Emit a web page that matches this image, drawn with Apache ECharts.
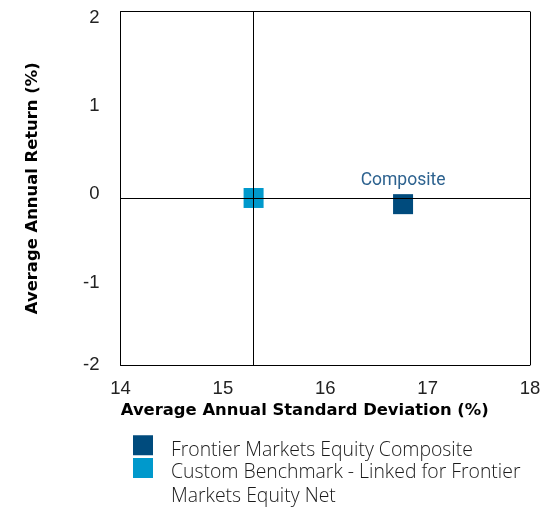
<!DOCTYPE html>
<html>
<head>
<meta charset="utf-8">
<script src="https://cdn.jsdelivr.net/npm/echarts@6/dist/echarts.min.js"></script>
<style>
  html, body { margin: 0; padding: 0; background: #ffffff; }
  #chart { width: 548px; height: 513px; }
</style>
</head>
<body>
<div id="chart"></div>
<script>
// series names
const compositeName = 'Frontier Markets Equity Composite';
const benchmarkName = 'Custom Benchmark - Linked for Frontier Markets Equity Net';
// legend text as it wraps in the picture
const benchmarkLegendLines = ['Custom Benchmark - Linked for Frontier', 'Markets Equity Net'];

// [std dev, return]
const compositePoint = [16.76, -0.18];
const benchmarkPoint = [15.30, -0.11];

// axis ranges
const xRange = [14, 18];
const yRange = [-2, 2];

const compositeColor = '#004b7d';
const benchmarkColor = '#0099cc';
const lightFont = '"Open Sans", Roboto, sans-serif';
const tickFont = '"Liberation Sans", sans-serif';
const boldFont = '"DejaVu Sans", sans-serif';

const chart = echarts.init(document.getElementById('chart'));

// legend item: a spacer line on top pushes the text a bit below the square's centre
function legendBlock(lines) {
  return '{s| }\n' + lines.map(l => '{t|' + l + '}').join('\n');
}
function legendRich(spacer) {
  return {
    s: { fontSize: 2, lineHeight: spacer },
    t: { fontFamily: lightFont, fontSize: 19.4, fontWeight: 300, color: '#1a1a1a', lineHeight: 24.5, padding: [0, 0, 0, 13] }
  };
}

const option = {
  backgroundColor: '#ffffff',
  animation: false,
  grid: { left: 120.5, right: 18, top: 11.5, bottom: 148 },
  xAxis: {
    type: 'value',
    min: xRange[0],
    max: xRange[1],
    interval: 1,
    name: 'Average Annual Standard Deviation (%)',
    nameLocation: 'middle',
    nameGap: 34,
    nameTextStyle: {
      fontFamily: boldFont, fontSize: 16.4, fontWeight: 'bold', color: '#000',
      padding: [0, 41, 0, 0]
    },
    axisLine: { show: true, onZero: false, lineStyle: { color: '#000', width: 1 } },
    axisTick: { show: false },
    splitLine: { show: false },
    axisLabel: { fontFamily: tickFont, fontSize: 18.5, color: '#222', margin: 14 }
  },
  yAxis: {
    type: 'value',
    min: yRange[0],
    max: yRange[1],
    interval: 1,
    name: 'Average Annual Return (%)',
    nameLocation: 'middle',
    nameGap: 80,
    nameTextStyle: { fontFamily: boldFont, fontSize: 16.4, fontWeight: 'bold', color: '#000' },
    axisLine: { show: true, onZero: false, lineStyle: { color: '#000', width: 1 } },
    axisTick: { show: false },
    splitLine: { show: false },
    axisLabel: {
      margin: 21,
      formatter: v => (v === yRange[0] ? '{b|' + v + '}' : '{a|' + v + '}'),
      rich: {
        a: { fontFamily: tickFont, fontSize: 18.5, color: '#222', padding: [12, 0, 0, 0] },
        b: { fontFamily: tickFont, fontSize: 18.5, color: '#222', padding: [0, 0, 0, 0] }
      }
    }
  },
  legend: [
    {
      left: 133, top: 432, padding: 0, orient: 'vertical',
      itemWidth: 20, itemHeight: 20, selectedMode: false,
      data: [{ name: compositeName, icon: 'rect' }],
      formatter: () => legendBlock([compositeName]),
      textStyle: { rich: legendRich(10) }
    },
    {
      left: 133, top: 442.5, padding: 0, orient: 'vertical',
      itemWidth: 20, itemHeight: 20, selectedMode: false,
      data: [{ name: benchmarkName, icon: 'rect' }],
      formatter: () => legendBlock(benchmarkLegendLines),
      textStyle: { rich: legendRich(33) }
    }
  ],
  series: [
    {
      // crosshair through the benchmark, plus the top/right frame
      type: 'scatter',
      data: [],
      z: 1,
      markLine: {
        silent: true,
        symbol: 'none',
        label: { show: false },
        lineStyle: { color: '#000', width: 1, type: 'solid', opacity: 1 },
        data: [
          { xAxis: benchmarkPoint[0] },
          { yAxis: benchmarkPoint[1] },
          { xAxis: xRange[1] },
          { yAxis: yRange[1] }
        ]
      }
    },
    {
      name: benchmarkName,
      type: 'scatter',
      symbol: 'rect',
      symbolSize: 20,
      z: 3,
      itemStyle: { color: benchmarkColor, opacity: 1 },
      data: [benchmarkPoint]
    },
    {
      name: compositeName,
      type: 'scatter',
      symbol: 'rect',
      symbolSize: 20,
      z: 3,
      itemStyle: { color: compositeColor, opacity: 1 },
      label: {
        show: true,
        position: 'top',
        distance: 5,
        formatter: 'Composite',
        fontFamily: 'Roboto, sans-serif',
        fontSize: 17.5,
        color: '#2d628f',
        opacity: 1
      },
      data: [compositePoint]
    }
  ]
};

chart.setOption(option);
</script>
</body>
</html>
